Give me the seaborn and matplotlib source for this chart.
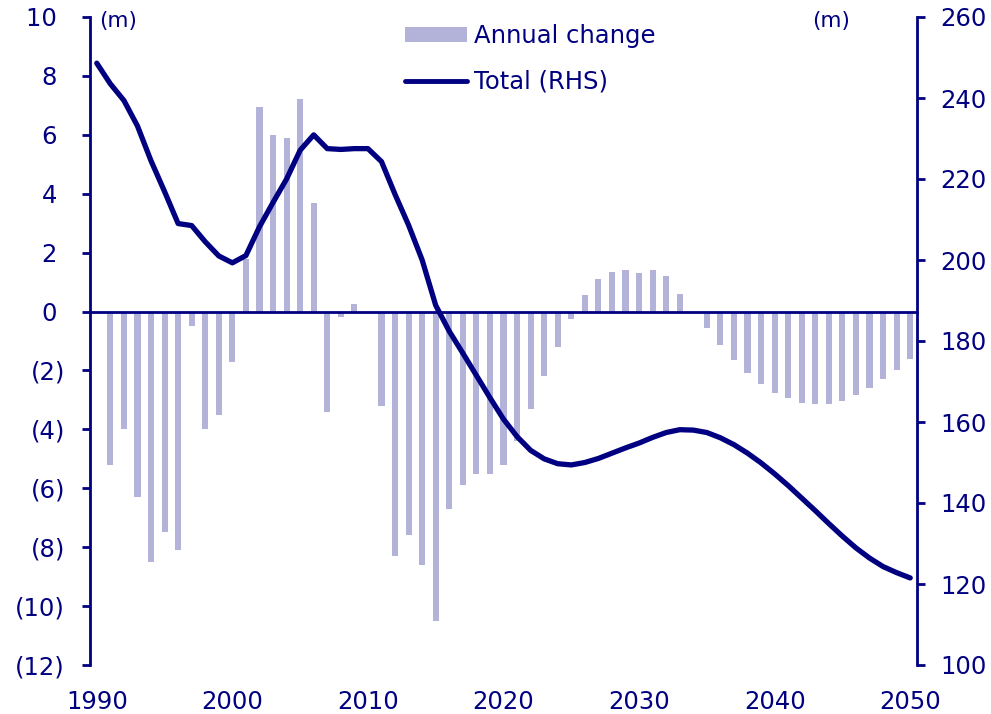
import numpy as np
import pandas as pd
import matplotlib
matplotlib.use("Agg")
import matplotlib.pyplot as plt
import seaborn as sns
from matplotlib.patches import Patch
from matplotlib.lines import Line2D

# data (millions)
years = list(range(1990, 2051))
change_years = list(range(1991, 2051))
annual_change = [
    -5.2, -4.0, -6.3, -8.5, -7.5, -8.1, -0.5, -4.0, -3.5, -1.7,
    1.8, 6.95, 6.0, 5.9, 7.2, 3.7, -3.4, -0.2, 0.25, 0.0,
    -3.2, -8.3, -7.6, -8.6, -10.5, -6.7, -5.9, -5.5, -5.5, -5.2,
    -4.4, -3.3, -2.2, -1.2, -0.25, 0.55, 1.1, 1.35, 1.4, 1.3,
    1.4, 1.2, 0.6, -0.05, -0.55, -1.15, -1.65, -2.1, -2.45, -2.75,
    -2.95, -3.1, -3.15, -3.15, -3.05, -2.85, -2.6, -2.3, -2.0, -1.6,
]
total = [
    248.6, 243.5, 239.4, 233.1, 224.5, 216.9, 209.0, 208.5, 204.5, 201.0,
    199.3, 201.1, 208.2, 214.2, 220.0, 227.1, 230.9, 227.5, 227.3, 227.5,
    227.5, 224.3, 216.2, 208.6, 200.0, 188.8, 182.4, 177.0, 171.5, 166.0,
    160.7, 156.4, 153.0, 150.9, 149.7, 149.4, 150.0, 151.0, 152.3, 153.6,
    154.8, 156.2, 157.4, 158.1, 158.0, 157.4, 156.1, 154.4, 152.3, 149.9,
    147.2, 144.3, 141.2, 138.1, 134.9, 131.8, 128.9, 126.4, 124.3, 122.8, 121.5,
]
label_years = [1990, 2000, 2010, 2020, 2030, 2040, 2050]
left_ticks = list(range(-12, 11, 2))
right_ticks = list(range(100, 261, 20))

NAVY = "#000080"
LAV = "#B3B3D9"
FS = 17.5

sns.set_style("white")
plt.rcParams["font.family"] = ["DejaVu Sans"]

fig = plt.figure(figsize=(9.91, 7.14), dpi=100)
ax = fig.add_axes([90 / 991, 1 - 665 / 714, 827 / 991, 648 / 714])

sns.barplot(x=change_years, y=annual_change, native_scale=True, width=0.45,
            color=LAV, saturation=1, linewidth=0, ax=ax)
ax.set_xlim(1989.5, 2050.5)
ax.set_ylim(-12, 10)
ax.set_xlabel("")
ax.set_ylabel("")

def fmt(v):
    return "({})".format(abs(v)) if v < 0 else "{} ".format(v)

ax.set_yticks(left_ticks)
ax.set_yticklabels([fmt(v) for v in left_ticks])
ax.tick_params(axis="y", direction="out", length=6, width=2, colors=NAVY,
               labelsize=FS, pad=12)

# category axis sits on zero, marks between categories
ax.spines["bottom"].set_position(("data", 0))
ax.set_xticks(np.arange(1999.5, 2050, 10))
ax.set_xticklabels([])
ax.tick_params(axis="x", direction="out", length=6, width=2, colors=NAVY)
for s in ["top", "right"]:
    ax.spines[s].set_visible(False)
for s in ["left", "bottom"]:
    ax.spines[s].set_color(NAVY)
    ax.spines[s].set_linewidth(2)

sec = ax.secondary_xaxis(0)
sec.set_xticks(label_years)
sec.set_xticklabels([str(y) for y in label_years])
sec.tick_params(length=0, pad=18, labelsize=FS, labelcolor=NAVY)
sec.spines["bottom"].set_visible(False)

ax2 = ax.twinx()
sns.lineplot(x=years, y=total, ax=ax2, color=NAVY, linewidth=3.8,
             solid_capstyle="round")
ax2.set_ylim(100, 260)
ax2.set_yticks(right_ticks)
ax2.set_ylabel("")
ax2.tick_params(axis="y", direction="out", length=6, width=2, colors=NAVY,
                labelsize=FS, pad=11)
for s in ["top", "left", "bottom"]:
    ax2.spines[s].set_visible(False)
ax2.spines["right"].set_color(NAVY)
ax2.spines["right"].set_linewidth(2)

fig.text(118 / 991, 1 - 21 / 714, "(m)", ha="center", va="center",
         fontsize=15.5, color=NAVY)
fig.text(831 / 991, 1 - 21 / 714, "(m)", ha="center", va="center",
         fontsize=15.5, color=NAVY)

handles = [Patch(facecolor=LAV, edgecolor="none"),
           Line2D([], [], color=NAVY, linewidth=3.5, solid_capstyle="round")]
fig.legend(handles, ["Annual change", "Total (RHS)"], loc="upper left",
           bbox_to_anchor=(405 / 991, 1 - 24 / 714), frameon=False,
           fontsize=FS, labelcolor=NAVY, handlelength=2.55, handleheight=0.6,
           handletextpad=0.3, labelspacing=0.9, borderpad=0, borderaxespad=0)

fig.savefig("out.png", dpi=100)
